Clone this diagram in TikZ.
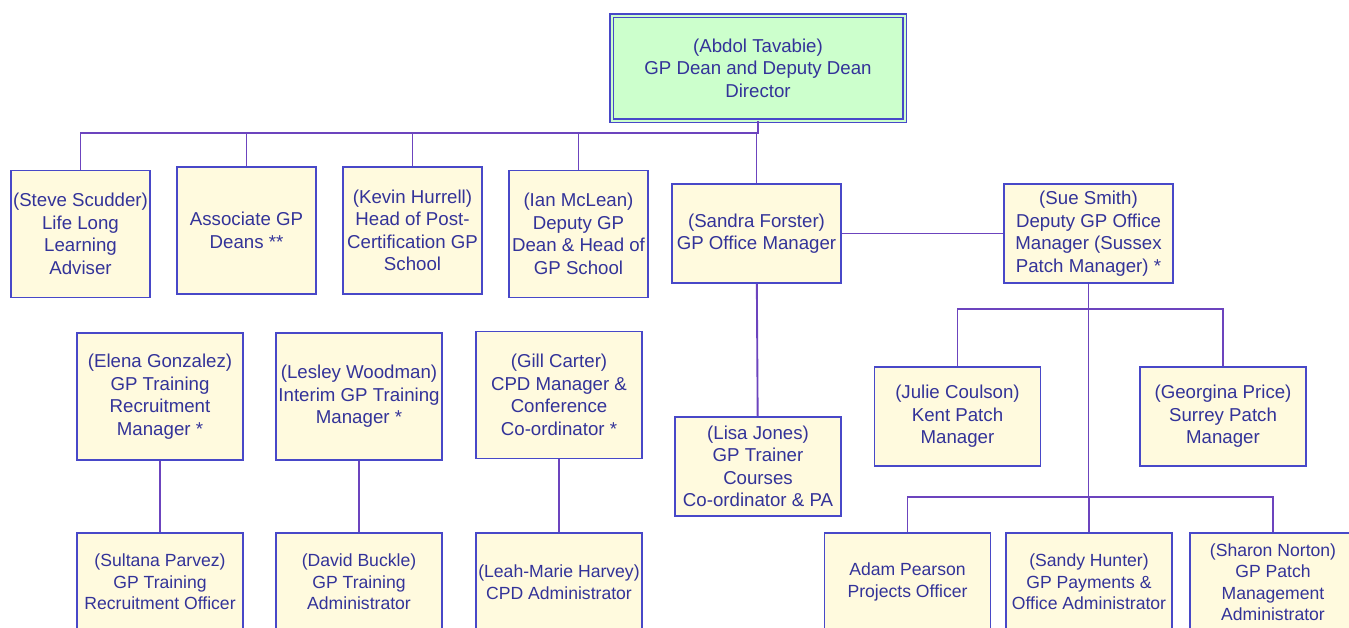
\documentclass[tikz,border=0pt]{standalone}
\usepackage{fontspec}
\setmainfont{Liberation Sans}
\definecolor{boxline}{RGB}{72,72,200}
\definecolor{boxfill}{RGB}{255,250,222}
\definecolor{deanfill}{RGB}{204,255,204}
\definecolor{linkline}{RGB}{108,68,190}
\definecolor{boxtext}{RGB}{51,51,153}
\tikzset{
  box/.style={draw=boxline,fill=boxfill,line width=1.3pt,text=boxtext,align=center,inner sep=0pt,font=\fontsize{14}{16.9}\selectfont},
  postbox/.style={box,minimum width=104.25pt,minimum height=95.25pt},
  officebox/.style={box,minimum width=126.75pt,minimum height=74.25pt},
  tallbox/.style={box,minimum width=124.5pt,minimum height=95.25pt},
  flatbox/.style={box,minimum width=124.5pt,minimum height=74.25pt},
  lowbox/.style={flatbox,minimum height=73.5pt,font=\fontsize{13.2}{16.1}\selectfont},
  deanbox/.style={box,fill=deanfill,line width=1pt,double=deanfill,double distance=1.5pt,minimum width=219.75pt,minimum height=78.75pt},
  link/.style={draw=linkline,line width=1.4pt}
}
\begin{document}
\begin{tikzpicture}[x=0.75pt,y=-0.75pt]
\useasboundingbox (0,0) rectangle (1349,628); \clip (0,0) rectangle (1349,628);
\node[deanbox] (dean) at (758,68) {(Abdol Tavabie)\\GP Dean and Deputy Dean\\Director};
\node[postbox] (steve) at (80.5,234) {(Steve Scudder)\\Life Long\\Learning\\Adviser};
\node[postbox] (assoc) at (246.5,230.5) {Associate GP\\Deans **};
\node[postbox] (kevin) at (412.5,230.5) {(Kevin Hurrell)\\Head of Post-\\Certification GP\\School};
\node[postbox] (ian) at (578.5,234) {(Ian McLean)\\Deputy GP\\Dean \& Head of\\GP School};
\node[officebox] (sandra) at (756.5,233.5) {(Sandra Forster)\\GP Office Manager};
\node[officebox] (sue) at (1088.5,233.5) {(Sue Smith)\\Deputy GP Office\\Manager (Sussex\\Patch Manager) *};
\node[tallbox] (elena) at (160,396.5) {(Elena Gonzalez)\\GP Training\\Recruitment\\Manager *};
\node[tallbox] (lesley) at (359,396.5) {(Lesley Woodman)\\Interim GP Training\\Manager *};
\node[tallbox] (gill) at (559,395) {(Gill Carter)\\CPD Manager \&\\Conference\\Co-ordinator *};
\node[flatbox] (lisa) at (758,466.5) {(Lisa Jones)\\GP Trainer\\Courses\\Co-ordinator \& PA};
\node[flatbox] (julie) at (957.5,416.5) {(Julie Coulson)\\Kent Patch\\Manager};
\node[flatbox] (georgina) at (1223,416.5) {(Georgina Price)\\Surrey Patch\\Manager};
\node[lowbox] (sultana) at (160,582) {(Sultana Parvez)\\GP Training\\Recruitment Officer};
\node[lowbox] (david) at (359,582) {(David Buckle)\\GP Training\\Administrator};
\node[lowbox] (leah) at (559,582) {(Leah-Marie Harvey)\\CPD Administrator};
\node[lowbox] (adam) at (907.5,582) {Adam Pearson\\Projects Officer};
\node[lowbox] (sandy) at (1089,582) {(Sandy Hunter)\\GP Payments \&\\Office Administrator};
\node[lowbox] (sharon) at (1273,582) {(Sharon Norton)\\GP Patch\\Management\\Administrator};
\coordinate (deanbus) at (0,133); \coordinate (suebus) at (0,309); \coordinate (adminbus) at (0,497);
\foreach \n in {steve,assoc,kevin,ian,sandra} { \draw[link] (dean.south) -- (dean.south |- deanbus) -| (\n.north); };
\draw[link] (sandra) -- (sue); \draw[link] (sandra) -- (lisa);
\foreach \n in {julie,georgina} { \draw[link] (sue.south) -- (sue.south |- suebus) -| (\n.north); };
\foreach \n in {adam,sandy,sharon} { \draw[link] (sue.south) -- (sue.south |- adminbus) -| (\n.north); };
\foreach \a/\b in {elena/sultana,lesley/david,gill/leah} { \draw[link] (\a) -- (\b); };
\end{tikzpicture}
\end{document}
